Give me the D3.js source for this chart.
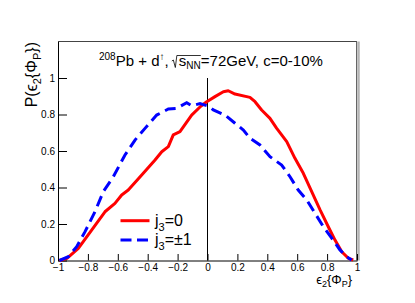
<!DOCTYPE html>
<html>
<head>
<meta charset="utf-8">
<script src="https://cdn.jsdelivr.net/npm/d3@7"></script>
<style>
	body { margin: 0; background: #fff; }
	text { font-family: "Liberation Sans", Arial, Helvetica, sans-serif; }
</style>
</head>
<body>
<div id="chart"></div>
<script>
// j3 = 0 (red, solid)
var redX = [-0.99, -0.94, -0.864, -0.775, -0.686, -0.619, -0.574, -0.53, -0.44, -0.351, -0.306, -0.262, -0.229, -0.184, -0.106, -0.045, -0.005, 0.05, 0.106, 0.139, 0.184, 0.284, 0.318, 0.362, 0.418, 0.463, 0.53, 0.585, 0.641, 0.697, 0.753, 0.808, 0.853, 0.898, 0.942, 0.975];
var redY = [0, 0.012, 0.067, 0.167, 0.267, 0.313, 0.359, 0.386, 0.468, 0.551, 0.596, 0.624, 0.688, 0.706, 0.797, 0.845, 0.870, 0.898, 0.925, 0.930, 0.912, 0.894, 0.870, 0.825, 0.779, 0.724, 0.651, 0.56, 0.478, 0.377, 0.277, 0.185, 0.112, 0.048, 0.012, 0.003];
// j3 = +-1 (blue, dashed)
var blueX = [-0.99, -0.931, -0.875, -0.819, -0.753, -0.697, -0.63, -0.552, -0.485, -0.418, -0.34, -0.262, -0.206, -0.139, -0.106, -0.05, 0.006, 0.039, 0.117, 0.184, 0.24, 0.284, 0.351, 0.418, 0.496, 0.552, 0.607, 0.664, 0.719, 0.775, 0.831, 0.886, 0.931, 0.964];
var blueY = [0, 0.021, 0.076, 0.158, 0.267, 0.377, 0.459, 0.578, 0.66, 0.724, 0.797, 0.83, 0.834, 0.865, 0.848, 0.86, 0.846, 0.825, 0.797, 0.752, 0.715, 0.67, 0.633, 0.569, 0.523, 0.459, 0.386, 0.332, 0.259, 0.185, 0.122, 0.058, 0.021, 0.003];

var xTicks = [-1, -0.8, -0.6, -0.4, -0.2, 0, 0.2, 0.4, 0.6, 0.8, 1];
var xTickLabels = ['\u22121', '\u22120.8', '\u22120.6', '\u22120.4', '\u22120.2', '0', '0.2', '0.4', '0.6', '0.8', '1'];
var yTicks = [0, 0.2, 0.4, 0.6, 0.8, 1];
var yTickLabels = ['0', '0.2', '0.4', '0.6', '0.8', '1'];
var legendLabels = ['=0', '=\u00b11'];

(function(){
	var W = 415, H = 303;
	var pLeft = 58, pRight = 357, pTop = 41.5, pBottom = 260.5;

	var svg = d3.select('#chart').append('svg')
		.attr('width', W)
		.attr('height', H)
		.style('background', '#fff');

	var x = d3.scaleLinear().domain([-1, 1]).range([pLeft, pRight]);
	var y = d3.scaleLinear().domain([0, 1.2]).range([pBottom, pTop]);

	//minor ticks every 0.05
	var xMinor = d3.range(-20, 21).map(function(i){ return i * 0.05; });
	var yMinor = d3.range(0, 24).map(function(i){ return i * 0.05; });

	//frame
	svg.append('line').attr('x1', pLeft).attr('x2', pRight).attr('y1', pTop).attr('y2', pTop)
		.style('stroke', '#444').style('stroke-width', 1);
	svg.append('line').attr('x1', pRight + 1.5).attr('x2', pRight + 1.5).attr('y1', pTop).attr('y2', pBottom)
		.style('stroke', '#b4b4b4').style('stroke-width', 2.5);
	svg.append('line').attr('x1', pRight - 0.5).attr('x2', pRight - 0.5).attr('y1', pTop).attr('y2', pBottom)
		.style('stroke', '#666').style('stroke-width', 1);

	//axes
	var gx = svg.append('g').attr('transform', 'translate(0,' + pBottom + ')');
	gx.call(d3.axisBottom(x).tickValues(xMinor).tickSize(-3.3).tickSizeOuter(0).tickFormat(''));
	gx.call(d3.axisBottom(x).tickValues(xTicks).tickSize(-6.5).tickSizeOuter(0).tickPadding(3)
		.tickFormat(function(d, i){ return xTickLabels[i]; }));

	var gy = svg.append('g').attr('transform', 'translate(' + pLeft + ',0)');
	gy.call(d3.axisLeft(y).tickValues(yMinor).tickSize(-4.5).tickSizeOuter(0).tickFormat(''));
	gy.call(d3.axisLeft(y).tickValues(yTicks).tickSize(-9).tickSizeOuter(0).tickPadding(3)
		.tickFormat(function(d, i){ return yTickLabels[i]; }));

	svg.selectAll('.tick text').style('font-size', '10px').style('fill', '#000')
		.style('font-family', '"Liberation Sans", Arial, sans-serif');
	svg.selectAll('.domain, .tick line').style('stroke', '#000');

	//vertical line at 0
	svg.append('line')
		.attr('x1', x(0)).attr('x2', x(0))
		.attr('y1', y(0)).attr('y2', y(1))
		.style('stroke', '#000').style('stroke-width', 1);

	//curves
	var line = d3.line()
		.x(function(d){ return x(d[0]); })
		.y(function(d){ return y(d[1]); });

	svg.append('path')
		.datum(d3.zip(redX, redY))
		.attr('d', line)
		.style('fill', 'none')
		.style('stroke', '#ff0000')
		.style('stroke-width', 3)
		.style('stroke-linejoin', 'round');

	svg.append('path')
		.datum(d3.zip(blueX, blueY))
		.attr('d', line)
		.style('fill', 'none')
		.style('stroke', '#0000ff')
		.style('stroke-width', 3)
		.style('stroke-dasharray', '11,6');

	//legend
	var legendColors = ['#ff0000', '#0000ff'];
	var legendDash = [null, '11,5.5'];
	var legendY = [220.7, 240];
	for(var i = 0; i < legendLabels.length; i++){
		svg.append('line')
			.attr('x1', 120.5).attr('x2', 149.5)
			.attr('y1', legendY[i]).attr('y2', legendY[i])
			.style('stroke', legendColors[i])
			.style('stroke-width', 3)
			.style('stroke-dasharray', legendDash[i]);
		var lt = svg.append('text')
			.attr('x', 155).attr('y', legendY[i] + 5)
			.style('font-size', '16px');
		lt.append('tspan').text('j');
		lt.append('tspan').attr('dy', 5).style('font-size', '11px').text('3');
		lt.append('tspan').attr('dy', -5).text(legendLabels[i]);
	}

	//title
	var title = svg.append('text').attr('x', 99).attr('y', 66).style('font-size', '15px');
	title.append('tspan').attr('dy', -6).style('font-size', '10px').text('208');
	title.append('tspan').attr('dy', 6).text('Pb + d');
	title.append('tspan').attr('dy', -6).style('font-size', '10px').text('\u2191');
	title.append('tspan').attr('dy', 6).text(', ');
	title.append('tspan').attr('dx', 6).text('s');
	title.append('tspan').attr('dy', 3).style('font-size', '10px').text('NN');
	title.append('tspan').attr('dy', -3).text('=72GeV, c=0-10%');

	//sqrt sign drawn over "sNN"
	var tn = title.node();
	var xs = tn.getStartPositionOfChar(12).x;
	var xe = tn.getStartPositionOfChar(15).x;
	svg.append('path')
		.attr('d', 'M' + (xs - 7) + ',' + 61 + 'L' + (xs - 5.5) + ',' + 60 + 'L' + (xs - 3.5) + ',' + 67.5
			+ 'L' + (xs - 2) + ',' + 55.5 + 'L' + xe + ',' + 55.5)
		.style('fill', 'none')
		.style('stroke', '#000')
		.style('stroke-width', 0.8);

	//axis titles
	var yt = svg.append('text')
		.attr('transform', 'translate(37,42) rotate(-90)')
		.style('text-anchor', 'end')
		.style('font-size', '16px');
	yt.append('tspan').text('P(\u03f5');
	yt.append('tspan').attr('dy', 4).style('font-size', '11px').text('2');
	yt.append('tspan').attr('dy', -4).text('{\u03a6');
	yt.append('tspan').attr('dy', 4).style('font-size', '11px').text('P');
	yt.append('tspan').attr('dy', -4).text('})');

	var xt = svg.append('text')
		.attr('x', 352).attr('y', 284)
		.style('text-anchor', 'end')
		.style('font-size', '13px');
	xt.append('tspan').text('\u03f5');
	xt.append('tspan').attr('dy', 3).style('font-size', '9px').text('2');
	xt.append('tspan').attr('dy', -3).text('{\u03a6');
	xt.append('tspan').attr('dy', 3).style('font-size', '9px').text('P');
	xt.append('tspan').attr('dy', -3).text('}');
})();
</script>
</body>
</html>
